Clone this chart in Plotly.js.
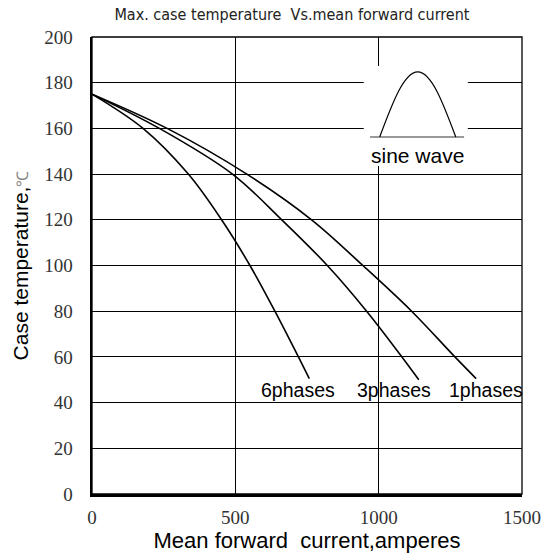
<!DOCTYPE html>
<html>
<head>
<meta charset="utf-8">
<script src="https://cdn.plot.ly/plotly-3.0.1.min.js"></script>
<style>html,body{margin:0;padding:0;background:#fff;}#chart{width:552px;height:555px;}</style>
</head>
<body>
<div id="chart"></div>
<script>
// Curve data (current in A, temperature in °C)
const x6 = [0, 178, 336, 452, 551, 638, 720, 758];
const y6 = [175, 160, 140, 120, 100, 80, 60, 50.5];
const x3 = [0, 235, 490, 662, 821, 958, 1072, 1140];
const y3 = [175, 160, 140, 120, 100, 80, 61.5, 50];
const x1 = [0, 262, 540, 766, 945, 1115, 1266, 1340];
const y1 = [175, 160, 140, 120, 100, 80, 60, 50.5];
const seriesNames = ["6phases", "3phases", "1phases"];
const labelX = [720, 1054, 1374];
const labelY = [45.5, 45.5, 45.5];
const xTicks = [0, 500, 1000, 1500];
const yTicks = [0, 20, 40, 60, 80, 100, 120, 140, 160, 180, 200];

const sans = "Liberation Sans, Arial, sans-serif";
const serif = "Liberation Serif, DejaVu Serif, serif";

function curve(x, y, name) {
  return {x: x, y: y, name: name, type: "scatter", mode: "lines",
    line: {color: "#000", width: 1.6, shape: "spline", smoothing: 1},
    hoverinfo: "skip", showlegend: false};
}

const traces = [curve(x6, y6, seriesNames[0]), curve(x3, y3, seriesNames[1]), curve(x1, y1, seriesNames[2])];

const annotations = seriesNames.map((n, i) => ({
  x: labelX[i], y: labelY[i], xref: "x", yref: "y", text: n, showarrow: false,
  font: {family: sans, size: 19.5, color: "#000"}, xanchor: "center", yanchor: "middle"
}));
annotations.push({x: 1135, y: 148, xref: "x", yref: "y", text: "sine wave", showarrow: false,
  font: {family: sans, size: 21, color: "#000"}, xanchor: "center", yanchor: "middle"});

const shapes = [
  // white inset area
  {type: "rect", xref: "x", yref: "y", x0: 948, x1: 1311, y0: 143.5, y1: 187.3,
   fillcolor: "#fff", line: {width: 0}, layer: "above"},
  // sine wave icon baseline
  {type: "line", xref: "x", yref: "y", x0: 970, x1: 1298, y0: 156.2, y1: 156.2,
   line: {color: "#777", width: 1.5}, layer: "above"},
  // sine wave icon pulse
  {type: "path", xref: "x", yref: "y",
   path: "M 1003.5 156.2 C 1046.8 170.8, 1088.2 184.7, 1136.2 184.7 C 1184.3 184.7, 1225.7 170.8, 1269 156.2",
   line: {color: "#000", width: 1.2}, layer: "above"},
  // frame (thin top/right)
  {type: "rect", xref: "paper", yref: "paper", x0: 0, x1: 1, y0: 0, y1: 1,
   line: {color: "#000", width: 1.3}, layer: "above"}
];

const layout = {
  width: 552, height: 555,
  margin: {l: 92, r: 30, t: 37, b: 61, pad: 0},
  paper_bgcolor: "#fff", plot_bgcolor: "#fff",
  title: {text: "Max. case temperature  Vs.mean forward current",
    font: {family: "DejaVu Sans Condensed, Liberation Sans Narrow, " + sans, size: 16, color: "#222"},
    x: 0.465, xanchor: "center", xref: "paper", y: 0.974, yanchor: "middle"},
  xaxis: {range: [0, 1500], tickvals: xTicks, ticktext: xTicks.map(String),
    showgrid: true, gridcolor: "#000", gridwidth: 1, zeroline: false,
    showline: true, linecolor: "#000", linewidth: 2.5, ticks: "", ticklabelstandoff: 5,
    tickfont: {family: serif, size: 19, color: "#333"},
    title: {text: "Mean forward  current,amperes", font: {family: sans, size: 22, color: "#000"}, standoff: 3},
    fixedrange: true},
  yaxis: {range: [0, 200], tickvals: yTicks, ticktext: yTicks.map(String),
    showgrid: true, gridcolor: "#000", gridwidth: 1, zeroline: false,
    showline: true, linecolor: "#000", linewidth: 2.5, ticks: "", ticklabelstandoff: 13,
    tickfont: {family: serif, size: 19, color: "#333"},
    title: {text: "Case temperature,<span style=\"color:#888;font-size:16px\">℃</span>", font: {family: sans, size: 21, color: "#000"}, standoff: 10},
    fixedrange: true},
  shapes: shapes,
  annotations: annotations,
  showlegend: false
};

Plotly.newPlot("chart", traces, layout, {displayModeBar: false, staticPlot: true});
</script>
</body>
</html>
